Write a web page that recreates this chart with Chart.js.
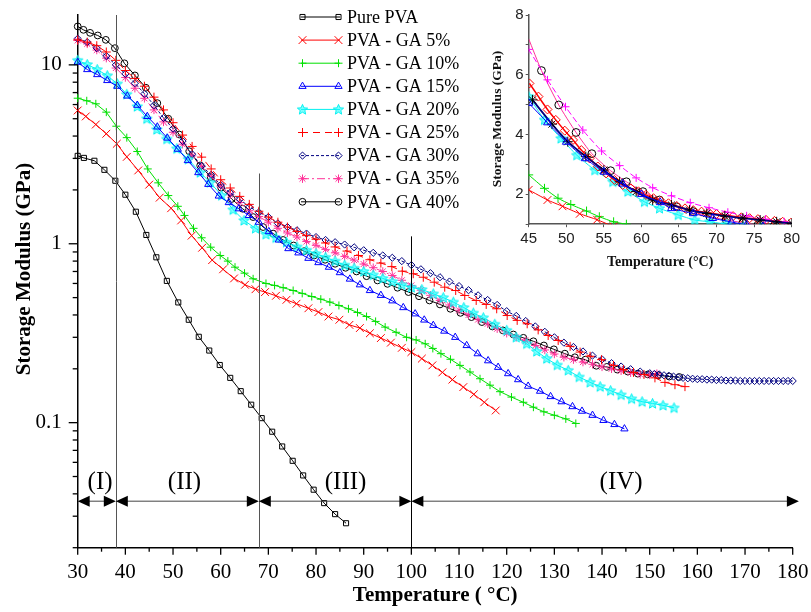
<!DOCTYPE html>
<html><head><meta charset="utf-8">
<script src="https://cdn.jsdelivr.net/npm/chart.js@4.4.1/dist/chart.umd.min.js"></script>
<style>
html,body{margin:0;padding:0;background:#fff;}
#wrap{position:relative;width:811px;height:612px;background:#fff;}
#main{position:absolute;left:0;top:0;}
#inset{position:absolute;left:480px;top:0;}
</style></head><body>
<div id="wrap"><canvas id="main" width="811" height="612"></canvas><canvas id="inset" width="331" height="272"></canvas></div>
<script>
// ---------------- DATA (main chart) ----------------
const seriesNames = ['Pure PVA','PVA - GA 5%','PVA - GA 10%','PVA - GA 15%','PVA - GA 20%','PVA - GA 25%','PVA - GA 30%','PVA - GA 35%','PVA - GA 40%'];

const tPure = [30,31.3,33.5,35.6,37.9,40.0,42.2,44.4,46.5,48.7,51.1,53.3,55.4,57.6,59.8,62.0,64.2,66.4,68.6,70.8,72.9,75.1,77.3,79.5,81.7,84.0,86.3];
const vPure = [3.1,3.02,2.91,2.59,2.25,1.88,1.51,1.12,0.84,0.62,0.47,0.376,0.302,0.253,0.210,0.178,0.150,0.126,0.106,0.089,0.0736,0.0612,0.0507,0.0422,0.0355,0.0308,0.0274];

const tGA5 = [30,31.7,33.8,36,38.2,40.3,42.7,45,47.2,49.6,51.7,53.9,56.1,58.2,60.5,62.8,65.1,67.3,69.3,71.6,73.8,75.9,78.4,80.5,82.6,84.9,87,89.2,91.3,93.6,95.7,98,100,102.2,104.4,106.5,108.6,110.9,113.1,115.3,117.7];
const vGA5 = [5.56,5.15,4.64,4.12,3.62,3.06,2.57,2.14,1.81,1.58,1.35,1.11,0.95,0.81,0.72,0.64,0.59,0.557,0.537,0.512,0.486,0.462,0.436,0.415,0.392,0.376,0.352,0.338,0.316,0.297,0.28,0.262,0.248,0.228,0.209,0.191,0.174,0.158,0.144,0.130,0.117];

const tGA10 = [30,31.9,33.8,36,38.1,40.3,42.5,44.7,46.9,49,51,52.4,54.3,56,57.9,59.9,61.5,63,65,66.8,69.5,71.3,73.1,75.2,77.1,79.1,81,82.9,84.8,86.8,88.7,90.6,92.5,94.5,96.8,99,101,102.9,104.5,106.2,108.2,110.2,112.3,114.4,116.5,118.6,121,123.5,125.6,127.8,130,132.4,134.5];
const vGA10 = [6.51,6.3,6.06,5.44,4.54,3.92,3.28,2.62,2.19,1.86,1.62,1.44,1.22,1.08,0.957,0.86,0.8,0.74,0.685,0.637,0.60,0.585,0.568,0.548,0.528,0.507,0.49,0.472,0.452,0.433,0.413,0.392,0.368,0.342,0.32,0.30,0.29,0.276,0.26,0.243,0.226,0.209,0.192,0.176,0.162,0.149,0.139,0.130,0.122,0.115,0.11,0.105,0.099];

const tGA15 = [30,32,34.1,36.2,38.3,40.4,42.5,44.6,46.7,48.8,51,53.1,55.3,57.4,59.6,61.7,63.8,65.9,68,70.1,72.2,74.2,76.3,78.4,80.5,82.7,85,87.1,89.2,91.3,93.6,96,98.3,100.8,102.7,104.6,106.9,109.2,111.6,113.9,116.1,118.2,120.3,122.4,124.5,127,129.2,131.5,133.8,135.8,138,140.3,142.6,144.7];
const vGA15 = [10.35,9.42,8.83,8.18,7.6,6.7,5.95,5.15,4.5,3.9,3.38,2.92,2.5,2.15,1.85,1.7,1.57,1.44,1.32,1.17,1.05,0.94,0.89,0.83,0.785,0.74,0.69,0.635,0.59,0.548,0.515,0.48,0.44,0.406,0.375,0.35,0.325,0.30,0.27,0.243,0.222,0.204,0.188,0.174,0.16,0.15,0.14,0.131,0.123,0.116,0.11,0.103,0.0977,0.0924];

const tGA20 = [30,32,34.1,36.2,38.3,40.3,42.5,44.5,46.6,48.7,50.8,53.2,55.7,57.8,60.2,62.6,64.9,67.3,69.5,71.6,73.8,76,78,80,82,84,86,88,90,92,94,96,98,100,102.2,104.6,106.7,108.8,111,113,115.1,117.5,120,122,124.2,126.3,128.4,130.6,132.9,135.2,137.5,139.6,141.8,144,146.2,148.4,150.6,152.8,155.1];
const vGA20 = [10.6,10.05,9.42,8.7,7.84,6.85,5.85,5.0,4.35,3.85,3.4,2.97,2.5,2.2,1.86,1.55,1.35,1.22,1.13,1.08,1.02,0.96,0.92,0.88,0.84,0.8,0.76,0.73,0.70,0.67,0.64,0.615,0.59,0.57,0.555,0.525,0.50,0.472,0.44,0.41,0.386,0.355,0.328,0.30,0.276,0.25,0.228,0.21,0.196,0.18,0.168,0.159,0.151,0.143,0.136,0.131,0.128,0.125,0.121];

const tGA25 = [30,32,34,36,38,40,42,44,46,48,50,52,54,56,58,60,62,64,66,68,70,72,74,76,78,80,82,84,86.5,88.9,91.3,93.6,95.9,98.1,100.4,102.5,104.8,107,109.3,111.2,113.6,115.7,117.9,120.1,122.2,124.3,126.6,128.7,130.8,133.3,135.4,137.5,139.9,142.4,144.5,146.6,148.8,151.1,153.2,155.3,157.4];
const vGA25 = [13.8,13.4,12.8,11.8,10.6,9.3,8.4,7.6,6.6,5.6,4.75,4.05,3.5,3.05,2.62,2.28,2.05,1.84,1.66,1.52,1.41,1.32,1.24,1.17,1.11,1.06,1.01,0.96,0.91,0.86,0.814,0.78,0.745,0.703,0.68,0.65,0.61,0.572,0.548,0.514,0.482,0.458,0.433,0.397,0.373,0.357,0.33,0.307,0.288,0.267,0.248,0.235,0.225,0.209,0.198,0.191,0.186,0.178,0.168,0.163,0.159];

const tGA30 = [30,32,34,36,38,40,42,44,46,48,50,52,54,56,58,60,62,64,66,68,70,72,74,76,78,80,82,84,86,88,90,92,94,96,98,100,102,104,106,108,110,112,114,116,118,120,122,124,126,128,130,132,134,136,138,140,142,144,146,148,150,151,152,153,154,155,156,157,158,159,160,161,162,163,164,165,166,167,168,169,170,171,172,173,174,175,176,177,178,179,180];
const vGA30 = [14.0,13.4,12.4,11.2,10.0,8.9,7.9,6.9,5.95,5.05,4.4,3.75,3.17,2.72,2.43,2.13,1.93,1.77,1.61,1.5,1.41,1.3,1.24,1.19,1.14,1.09,1.05,1.02,0.99,0.955,0.92,0.89,0.86,0.835,0.80,0.76,0.72,0.685,0.65,0.615,0.58,0.55,0.515,0.485,0.455,0.42,0.395,0.37,0.345,0.322,0.30,0.28,0.265,0.25,0.237,0.226,0.215,0.206,0.199,0.193,0.189,0.187,0.186,0.184,0.183,0.181,0.179,0.178,0.177,0.176,0.175,0.175,0.174,0.174,0.173,0.173,0.172,0.172,0.172,0.171,0.171,0.171,0.171,0.171,0.171,0.171,0.171,0.171,0.171,0.171,0.171];

const tGA35 = [30,32,34,36,38,40,42,44,46,48,50,52,54,56,58,60,62,64,66,68,70,72,74,76,78,80,82,84,86,88,90,92,94,96,98,100,102,104,106,108,110,112,114,116,118,120,122,124,126,128,130,132,134,136,138,140,142,144,146,148,150,151.5];
const vGA35 = [13.7,13.1,12.1,10.9,9.6,8.5,7.4,6.5,5.6,4.8,4.2,3.6,3.1,2.7,2.38,2.1,1.88,1.7,1.53,1.42,1.32,1.22,1.15,1.09,1.03,0.98,0.93,0.89,0.85,0.81,0.77,0.735,0.70,0.665,0.625,0.585,0.55,0.515,0.482,0.455,0.425,0.40,0.377,0.357,0.335,0.316,0.30,0.287,0.27,0.255,0.242,0.232,0.225,0.218,0.212,0.205,0.20,0.195,0.19,0.186,0.185,0.188];

const tGA40 = [30,31.2,32.6,34.2,35.9,37.8,39.8,42,44.3,46.7,49,51.3,53.4,55.7,57.9,60.1,62.3,64.6,66.8,68.9,71,73.1,75.3,77.5,79.6,81.9,84,86.2,88.5,90.6,92.9,95,97.1,99.4,101.6,103.8,106,108.2,110.3,112.6,114.8,117,119.2,121.4,123.5,125.6,127.8,129.9,132.2,134.3,136.5,138.8,141,143.2,145.4,147.5,149.6,151.8,154.1,156.2];
const vGA40 = [16.4,15.7,15.1,14.6,13.8,12.4,10.2,8.73,7.45,6.11,5.0,4.08,3.29,2.74,2.36,2.06,1.78,1.57,1.41,1.24,1.14,1.05,0.978,0.909,0.86,0.814,0.773,0.734,0.70,0.659,0.624,0.597,0.568,0.537,0.509,0.482,0.458,0.433,0.411,0.389,0.365,0.345,0.328,0.311,0.298,0.285,0.27,0.257,0.243,0.232,0.225,0.208,0.205,0.198,0.193,0.188,0.186,0.184,0.181,0.18];

const xTickLabelStep = 10;
const yTickValues = [0.1, 1, 10];
const yTickLabels = ['0.1', '1', '10'];
const regionLines = [38, 68, 100];
const regionLineTops = [19, 2.47, 1.1];
const regionBounds = [30, 38, 68, 100, 181.3];
const regionLabels = ['(I)', '(II)', '(III)', '(IV)'];
const regionLabelTemps = [34.7, 52.4, 86.2, 144];
const regionArrowLevel = 0.0364;
const regionLabelLevel = 0.0466;

// ---------------- DATA (inset) ----------------
const insetNames = ['red-x','green-plus','navy-asterisk','blue-triangle','cyan-star','red-diamond','black-circle','magenta-dash'];
const itRedX = [45,47.5,49.5,51.8,54.1,56.3];
const ivRedX = [2.15,1.81,1.6,1.35,1.15,0.92];
const itGreen = [45,47.1,48.9,50.6,52.7,54.4,56.3,58];
const ivGreen = [2.65,2.2,1.87,1.66,1.44,1.25,1.08,1.0];
const itNavy = [45.5,48.1,50.2,52.6,55,57.1,59.3,61.5,64,66.4,68.7,71.1,73.5,75.8,78,80];
const ivNavy = [5.16,4.35,3.76,3.26,2.81,2.42,2.09,1.81,1.64,1.47,1.36,1.27,1.2,1.14,1.08,1.03];
const itBlue = [45,47.5,50,52.5,55,57.5,60,62.5,64,66.9,69.5,72,74,76.2,78.4,80];
const ivBlue = [5.05,4.4,3.75,3.2,2.75,2.35,2.0,1.73,1.53,1.36,1.2,1.07,0.98,0.92,0.81,0.78];
const itCyan = [45,47.1,49.3,51.4,53.8,56.2,58.2,60.4,62.4,64.9,67.1,69.1,71.3,73.5,75.8,78];
const ivCyan = [5.27,4.49,3.87,3.31,2.81,2.42,2.09,1.75,1.53,1.31,1.14,1.08,1.0,0.94,0.9,0.86];
const itRedD = [45.1,46.3,47.5,48.6,49.8,50.9,52,53.1,54.2,55.3,56.4,57.5,58.6,59.6,60.6,61.6,62.6,63.6,64.7,65.8,66.9,68,69,70,71.1,72.2,73.3,74.4,75.5,76.6,77.7,78.8,79.9];
const ivRedD = [5.71,5.27,4.84,4.49,4.13,3.82,3.48,3.2,2.93,2.7,2.48,2.31,2.2,2.1,1.98,1.87,1.78,1.7,1.61,1.53,1.47,1.42,1.38,1.34,1.30,1.27,1.23,1.2,1.17,1.14,1.11,1.08,1.05];
const itCirc = [45,46.7,49,51.3,53.4,55.9,58,60.2,62.4,64.7,66.9,69.1,71.3,73.5,75.5,77.6,79.8];
const ivCirc = [7.2,6.14,4.99,4.07,3.36,2.79,2.42,2.09,1.81,1.58,1.42,1.25,1.14,1.05,0.97,0.92,0.88];
const itMag = [45,47.5,49.9,52.2,54.7,57.1,59.3,61.5,64,66.5,69,71.5,74,76.5,79];
const ivMag = [6.85,5.83,4.93,4.15,3.45,2.96,2.55,2.22,1.95,1.72,1.55,1.4,1.28,1.17,1.08];
const insetYLabels = [2, 4, 6, 8];

// ---------------- STYLES ----------------
const SERIF = '"Liberation Serif", "Times New Roman", serif';
const SANS = '"Liberation Sans", Arial, sans-serif';
Chart.defaults.font.family = SERIF;

function makeStar(stroke, fill){
  const c = document.createElement('canvas'); c.width = 13; c.height = 13;
  const g = c.getContext('2d'); g.beginPath();
  for (let i = 0; i < 10; i++) {
    const a = -Math.PI/2 + i*Math.PI/5, rr = i % 2 ? 2.4 : 5.4;
    g.lineTo(6.5 + rr*Math.cos(a), 6.8 + rr*Math.sin(a));
  }
  g.closePath(); g.fillStyle = fill; g.fill(); g.strokeStyle = stroke; g.lineWidth = 1; g.stroke();
  return c;
}
const starImg = makeStar('#00F0F0', 'rgba(0,255,255,0.5)');

const mainStyles = [
  {color:'#000000', point:'rect', r:3.6, dash:[]},
  {color:'#FF0000', point:'crossRot', r:5.5, dash:[]},
  {color:'#00E000', point:'cross', r:4, dash:[]},
  {color:'#0000FF', point:'triangle', r:4.2, dash:[]},
  {color:'#00F0F0', point:starImg, r:5, dash:[]},
  {color:'#FF0000', point:'cross', r:4.5, dash:[7,5]},
  {color:'#000080', point:'rectRot', r:3.6, dash:[3,2]},
  {color:'#FF3399', point:'star', r:4.2, dash:[8,3,2,3]},
  {color:'#000000', point:'circle', r:3.4, dash:[]},
];
const mainT = [tPure,tGA5,tGA10,tGA15,tGA20,tGA25,tGA30,tGA35,tGA40];
const mainV = [vPure,vGA5,vGA10,vGA15,vGA20,vGA25,vGA30,vGA35,vGA40];

const pts = (T, V) => T.map((t, i) => ({x: t, y: V[i]}));

const mainDatasets = seriesNames.map((name, i) => {
  const s = mainStyles[i];
  return {
    label: name, data: pts(mainT[i], mainV[i]),
    borderColor: s.color, borderWidth: 1, borderDash: s.dash,
    pointStyle: s.point, pointRadius: s.r, pointBorderColor: s.color,
    pointBackgroundColor: 'rgba(0,0,0,0)', pointBorderWidth: 1,
    tension: 0, fill: false, clip: 8
  };
});

// marker drawing for custom legend
function drawMarker(ctx, style, r, x, y, color){
  ctx.save(); ctx.setLineDash([]); ctx.strokeStyle = color; ctx.lineWidth = 1;
  if (style instanceof HTMLCanvasElement) {
    ctx.drawImage(style, x - style.width/2, y - style.height/2); ctx.restore(); return;
  }
  ctx.beginPath();
  const d = r*Math.SQRT1_2;
  switch (style) {
    case 'rect': ctx.rect(x-d, y-d, 2*d, 2*d); break;
    case 'circle': ctx.arc(x, y, r, 0, 2*Math.PI); break;
    case 'triangle':
      ctx.moveTo(x, y-r); ctx.lineTo(x+r*0.866, y+r*0.5); ctx.lineTo(x-r*0.866, y+r*0.5); ctx.closePath(); break;
    case 'rectRot':
      ctx.moveTo(x-r, y); ctx.lineTo(x, y-r); ctx.lineTo(x+r, y); ctx.lineTo(x, y+r); ctx.closePath(); break;
    case 'cross':
      ctx.moveTo(x, y-r); ctx.lineTo(x, y+r); ctx.moveTo(x-r, y); ctx.lineTo(x+r, y); break;
    case 'crossRot':
      ctx.moveTo(x-d, y-d); ctx.lineTo(x+d, y+d); ctx.moveTo(x-d, y+d); ctx.lineTo(x+d, y-d); break;
    case 'star':
      ctx.moveTo(x, y-r); ctx.lineTo(x, y+r); ctx.moveTo(x-r, y); ctx.lineTo(x+r, y);
      ctx.moveTo(x-d, y-d); ctx.lineTo(x+d, y+d); ctx.moveTo(x-d, y+d); ctx.lineTo(x+d, y-d); break;
  }
  ctx.stroke(); ctx.restore();
}

function seg(ctx, x1, y1, x2, y2){ ctx.beginPath(); ctx.moveTo(x1, y1); ctx.lineTo(x2, y2); ctx.stroke(); }

const mainDecor = {
  id: 'mainDecor',
  afterDraw(chart){
    const {ctx, chartArea: ca} = chart;
    const xs = chart.scales.x, ys = chart.scales.y;
    ctx.save();
    // tick marks
    ctx.strokeStyle = '#000'; ctx.lineWidth = 1.3;
    xs.ticks.forEach(t => {
      const px = xs.getPixelForValue(t.value);
      seg(ctx, px, ca.bottom, px, ca.bottom + (t.value % xTickLabelStep === 0 ? 7 : 4));
    });
    ys.ticks.forEach(t => {
      const py = ys.getPixelForValue(t.value);
      const l = Math.log10(t.value), major = Math.abs(l - Math.round(l)) < 1e-6;
      seg(ctx, ca.left - (major ? 9 : 5), py, ca.left, py);
    });
    // region vertical lines
    ctx.lineWidth = 1;
    regionLines.forEach((T, i) => {
      ctx.strokeStyle = i < 2 ? '#555' : '#000';
      const px = Math.round(xs.getPixelForValue(T)) + 0.5;
      seg(ctx, px, ys.getPixelForValue(regionLineTops[i]), px, ca.bottom);
    });
    // arrows
    const ay = ys.getPixelForValue(regionArrowLevel);
    for (let i = 0; i < regionLabels.length; i++) {
      const x0 = xs.getPixelForValue(regionBounds[i]), x1 = xs.getPixelForValue(regionBounds[i+1]);
      ctx.strokeStyle = '#444'; ctx.lineWidth = 1;
      seg(ctx, x0 + 8, ay, x1 - 8, ay);
      ctx.fillStyle = '#000';
      ctx.beginPath(); ctx.moveTo(x0, ay); ctx.lineTo(x0 + 12, ay - 5.5); ctx.lineTo(x0 + 12, ay + 5.5); ctx.closePath(); ctx.fill();
      ctx.beginPath(); ctx.moveTo(x1, ay); ctx.lineTo(x1 - 12, ay - 5.5); ctx.lineTo(x1 - 12, ay + 5.5); ctx.closePath(); ctx.fill();
      ctx.font = '25px ' + SERIF; ctx.textAlign = 'center'; ctx.textBaseline = 'middle';
      ctx.fillText(regionLabels[i], xs.getPixelForValue(regionLabelTemps[i]), ys.getPixelForValue(regionLabelLevel));
    }
    // axis titles
    ctx.fillStyle = '#000';
    ctx.font = 'bold 21px ' + SERIF; ctx.textAlign = 'center'; ctx.textBaseline = 'middle';
    ctx.fillText('Temperature ( \u00B0C)', (ca.left + ca.right)/2, 596);
    ctx.save(); ctx.translate(25, 269); ctx.rotate(-Math.PI/2);
    ctx.fillText('Storage Modulus (GPa)', 0, 0); ctx.restore();
    // legend
    ctx.font = '18px ' + SERIF; ctx.textAlign = 'left'; ctx.textBaseline = 'middle';
    seriesNames.forEach((name, i) => {
      const s = mainStyles[i], y = 17 + i*23.1;
      ctx.strokeStyle = s.color; ctx.lineWidth = 1; ctx.setLineDash(s.dash);
      seg(ctx, 301, y, 340, y); ctx.setLineDash([]);
      drawMarker(ctx, s.point, s.r, 302.5, y, s.color);
      drawMarker(ctx, s.point, s.r, 338.5, y, s.color);
      ctx.fillStyle = '#000'; ctx.fillText(name, 347, y + 1);
    });
    ctx.restore();
  }
};

new Chart(document.getElementById('main'), {
  type: 'line',
  data: { datasets: mainDatasets },
  options: {
    responsive: false, animation: false, events: [], devicePixelRatio: 1,
    layout: { padding: { top: 15, right: 18.3, left: 0, bottom: 0 } },
    plugins: { legend: { display: false }, tooltip: { enabled: false } },
    scales: {
      x: {
        type: 'linear', min: 30, max: 180,
        ticks: { stepSize: 5, autoSkip: false, maxRotation: 0, padding: 4, color: '#000',
          font: { size: 21, family: SERIF },
          callback: v => (v % xTickLabelStep === 0 ? String(v) : '') },
        grid: { display: true, drawOnChartArea: false, drawTicks: true, tickLength: 8, color: 'rgba(0,0,0,0)' },
        border: { display: true, color: '#000', width: 1.5 },
        afterFit: s => { s.height = 64.3; s.paddingLeft = 0; s.paddingRight = 0; }
      },
      y: {
        type: 'logarithmic', min: 0.02, max: 19,
        afterBuildTicks: s => {
          s.ticks = s.ticks.filter(t => {
            const e = Math.floor(Math.log10(t.value) + 1e-9);
            const m = t.value / Math.pow(10, e);
            return Math.abs(m - Math.round(m)) < 1e-6;
          });
        },
        ticks: { autoSkip: false, padding: 8, color: '#000', font: { size: 21, family: SERIF },
          callback: v => { const k = yTickValues.findIndex(t => Math.abs(t - v) < 1e-9); return k >= 0 ? yTickLabels[k] : ''; } },
        grid: { display: true, drawOnChartArea: false, drawTicks: true, tickLength: 8, color: 'rgba(0,0,0,0)' },
        border: { display: true, color: '#000', width: 1.5 },
        afterFit: s => { s.width = 77.7; s.paddingTop = 0; s.paddingBottom = 0; }
      }
    }
  },
  plugins: [mainDecor]
});

// ---------------- INSET ----------------
const insetStyles = [
  {line:'#FF0000', pt:'#FF0000', point:'crossRot', r:5.5, dash:[], w:1},
  {line:'#00E000', pt:'#00E000', point:'cross', r:4.5, dash:[], w:1},
  {line:'#000080', pt:'#000000', point:'star', r:5, dash:[], w:1.8},
  {line:'#0000FF', pt:'#0000FF', point:'triangle', r:4.5, dash:[], w:1},
  {line:'#00F0F0', pt:'#00F0F0', point:starImg, r:5, dash:[], w:1},
  {line:'#FF0000', pt:'#FF0000', point:'rectRot', r:4.5, dash:[], w:1.5},
  {line:'#FF3399', pt:'#000000', point:'circle', r:3.9, dash:[], w:1},
  {line:'#FF00FF', pt:'#FF00FF', point:'cross', r:4, dash:[6,3], w:1},
];
const insetT = [itRedX,itGreen,itNavy,itBlue,itCyan,itRedD,itCirc,itMag];
const insetV = [ivRedX,ivGreen,ivNavy,ivBlue,ivCyan,ivRedD,ivCirc,ivMag];
const insetOrder = [6, 7, 1, 0, 4, 3, 5, 2]; // drawing priority (lower on top)

const insetDatasets = insetNames.map((n, i) => {
  const s = insetStyles[i];
  return {
    label: n, data: pts(insetT[i], insetV[i]), order: insetOrder[i],
    borderColor: s.line, borderWidth: s.w, borderDash: s.dash,
    pointStyle: s.point, pointBorderColor: s.pt, pointBackgroundColor: 'rgba(0,0,0,0)', pointBorderWidth: 1,
    pointRadius: i === 6 ? insetT[i].map((t, k) => (k === 0 ? 0 : s.r)) : s.r,
    tension: 0.2, fill: false
  };
});

const insetDecor = {
  id: 'insetDecor',
  afterDraw(chart){
    const {ctx, chartArea: ca} = chart;
    ctx.save(); ctx.fillStyle = '#111';
    ctx.font = 'bold 14px ' + SERIF; ctx.textAlign = 'center'; ctx.textBaseline = 'middle';
    ctx.fillText('Temperature (\u00B0C)', (ca.left + ca.right)/2, 262);
    ctx.translate(18, 119); ctx.rotate(-Math.PI/2);
    ctx.font = 'bold 13.5px ' + SERIF;
    ctx.fillText('Storage Modulus (GPa)', 0, 0);
    ctx.restore();
  }
};

new Chart(document.getElementById('inset'), {
  type: 'line',
  data: { datasets: insetDatasets },
  options: {
    responsive: false, animation: false, events: [], devicePixelRatio: 1,
    layout: { padding: { top: 15, right: 19.3, left: 0, bottom: 0 } },
    plugins: { legend: { display: false }, tooltip: { enabled: false } },
    scales: {
      x: {
        type: 'linear', min: 45, max: 80,
        ticks: { stepSize: 5, autoSkip: false, maxRotation: 0, padding: 3, color: '#222', font: { size: 15, family: SANS } },
        grid: { display: true, drawOnChartArea: false, drawTicks: true, tickLength: 3, color: '#555' },
        border: { display: true, color: '#555', width: 1.5 },
        afterFit: s => { s.height = 272 - 224.2; s.paddingLeft = 0; s.paddingRight = 0; }
      },
      y: {
        type: 'linear', min: 1, max: 8,
        ticks: { stepSize: 1, autoSkip: false, padding: 2, color: '#222', font: { size: 15, family: SANS },
          callback: v => (insetYLabels.includes(v) ? String(v) : '') },
        grid: { display: true, drawOnChartArea: false, drawTicks: true, tickLength: 3, color: '#555' },
        border: { display: true, color: '#555', width: 1.5 },
        afterFit: s => { s.width = 48.7; s.paddingTop = 0; s.paddingBottom = 0; }
      }
    }
  },
  plugins: [insetDecor]
});
</script>
</body></html>
